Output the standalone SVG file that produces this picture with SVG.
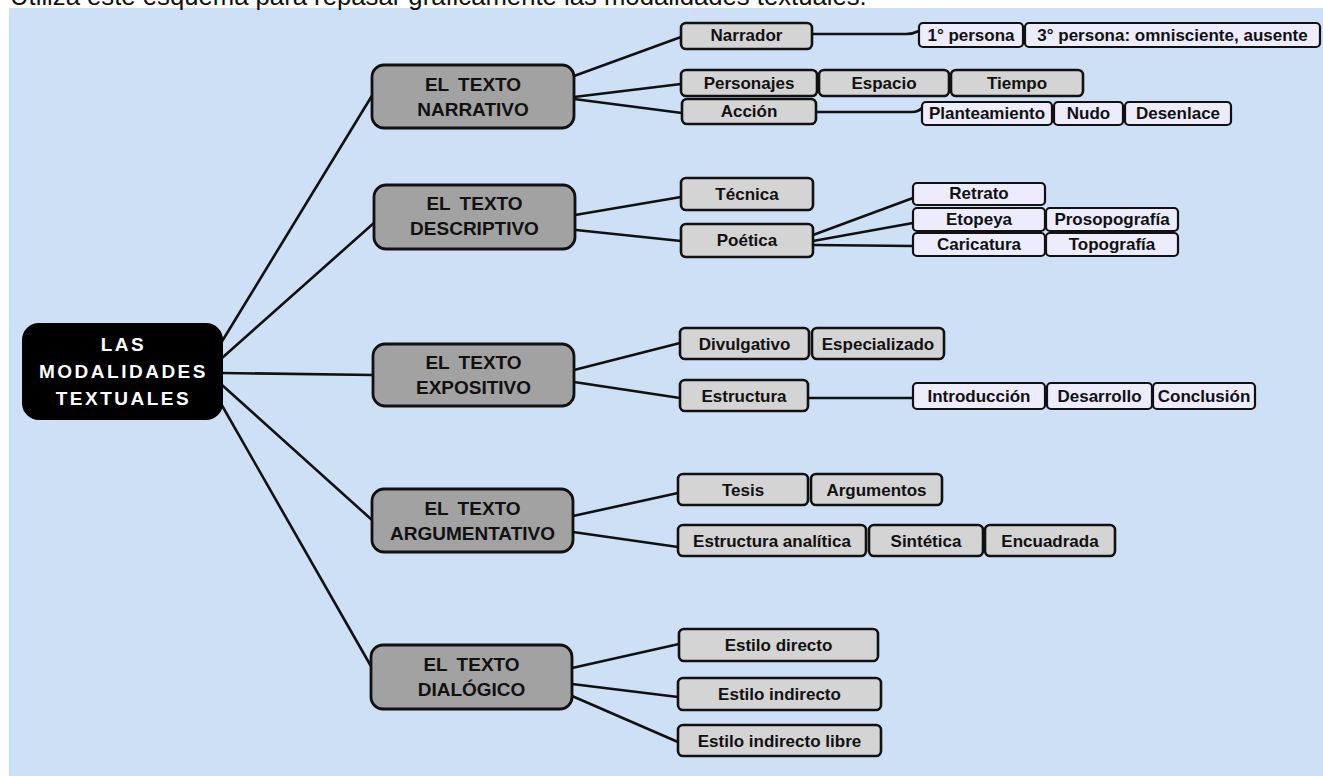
<svg xmlns="http://www.w3.org/2000/svg" width="1323" height="776" viewBox="0 0 1323 776">
<style>
text{font-family:"Liberation Sans",Arial,sans-serif;text-anchor:middle;fill:#111}
.root rect{fill:#000;stroke:#000;stroke-width:2}
.root text{fill:#fff;font-weight:bold;font-size:19px;letter-spacing:2.5px}
.l1 rect{fill:#a2a2a2;stroke:#111;stroke-width:2.8}
.l1 text{font-weight:bold;font-size:19px;word-spacing:4px}
.l2 rect{fill:#d4d4d4;stroke:#111;stroke-width:2.6}
.l2 text{font-weight:bold;font-size:17px}
.l3 rect{fill:#ececfd;stroke:#111;stroke-width:2.2}
.l3 text{font-weight:bold;font-size:17px}
#connectors path{fill:none;stroke:#111;stroke-width:2.6;stroke-linecap:round}
</style>
<rect x="0" y="0" width="1323" height="776" fill="#fff"/>
<rect x="9" y="8" width="1314" height="768" fill="#cde0f6"/>
<text x="10" y="5" style="text-anchor:start;font-size:25.7px">Utiliza este esquema para repasar gráficamente las modalidades textuales.</text>

<g id="connectors">
<path d="M221 343 L373 94"/>
<path d="M222 358 L375 222"/>
<path d="M222 373 L373 375"/>
<path d="M222 385 L372 520"/>
<path d="M220 402 L372 668"/>
<path d="M574 76 L681 37"/>
<path d="M574 97 L681 84"/>
<path d="M574 99 L682 113"/>
<path d="M812 34 L906 34 Q913 34 919 31"/>
<path d="M816 112 L912 112 Q918 112 922 108"/>
<path d="M575 215 L681 197"/>
<path d="M576 230 L681 241"/>
<path d="M813 235 L913 198"/>
<path d="M813 241 L913 223"/>
<path d="M813 245 L913 246"/>
<path d="M574 370 L680 343"/>
<path d="M574 382 L680 398"/>
<path d="M808 398 L913 398"/>
<path d="M573 516 L678 493"/>
<path d="M573 532 L678 547"/>
<path d="M572 668 L679 644"/>
<path d="M572 684 L678 697"/>
<path d="M572 696 L678 742"/>
</g>

<g id="root" class="root">
<rect x="23" y="324" width="199" height="95" rx="16"/>
<text x="123.5" y="351">LAS</text>
<text x="123.5" y="378">MODALIDADES</text>
<text x="123.5" y="405">TEXTUALES</text>
</g>

<g id="narrativo" class="l1">
<rect x="372" y="65" width="202" height="63" rx="12"/>
<text x="473" y="91">EL TEXTO</text>
<text x="473" y="116">NARRATIVO</text>
</g>
<g id="descriptivo" class="l1">
<rect x="374" y="185" width="201" height="64" rx="12"/>
<text x="474.5" y="210">EL TEXTO</text>
<text x="474.5" y="235">DESCRIPTIVO</text>
</g>
<g id="expositivo" class="l1">
<rect x="373" y="344" width="201" height="62" rx="12"/>
<text x="473.5" y="369">EL TEXTO</text>
<text x="473.5" y="394">EXPOSITIVO</text>
</g>
<g id="argumentativo" class="l1">
<rect x="372" y="489" width="201" height="63" rx="12"/>
<text x="472.5" y="515">EL TEXTO</text>
<text x="472.5" y="540">ARGUMENTATIVO</text>
</g>
<g id="dialogico" class="l1">
<rect x="371" y="645" width="201" height="64" rx="12"/>
<text x="471.5" y="671">EL TEXTO</text>
<text x="471.5" y="696">DIALÓGICO</text>
</g>

<g id="narrador" class="l2"><rect x="681" y="23" width="131" height="26" rx="5"/><text x="746.5" y="41">Narrador</text></g>
<g id="personajes" class="l2"><rect x="681" y="70" width="136" height="26" rx="5"/><text x="749" y="89">Personajes</text></g>
<g id="espacio" class="l2"><rect x="819" y="70" width="130" height="26" rx="5"/><text x="884" y="89">Espacio</text></g>
<g id="tiempo" class="l2"><rect x="951" y="70" width="132" height="26" rx="5"/><text x="1017" y="89">Tiempo</text></g>
<g id="accion" class="l2"><rect x="682" y="99" width="134" height="25" rx="5"/><text x="749" y="117">Acción</text></g>

<g id="persona1" class="l3"><rect x="919" y="23" width="104" height="24" rx="4"/><text x="971" y="40.5">1° persona</text></g>
<g id="persona3" class="l3"><rect x="1025" y="23" width="295" height="24" rx="4"/><text x="1172.5" y="40.5">3° persona: omnisciente, ausente</text></g>
<g id="planteamiento" class="l3"><rect x="922" y="102" width="130" height="23" rx="4"/><text x="987" y="119">Planteamiento</text></g>
<g id="nudo" class="l3"><rect x="1054" y="102" width="69" height="23" rx="4"/><text x="1088.5" y="119">Nudo</text></g>
<g id="desenlace" class="l3"><rect x="1125" y="102" width="106" height="23" rx="4"/><text x="1178" y="119">Desenlace</text></g>

<g id="tecnica" class="l2"><rect x="681" y="178" width="132" height="32" rx="5"/><text x="747" y="200">Técnica</text></g>
<g id="poetica" class="l2"><rect x="681" y="224" width="132" height="33" rx="5"/><text x="747" y="246">Poética</text></g>

<g id="retrato" class="l3"><rect x="913" y="183" width="132" height="22" rx="4"/><text x="979" y="199">Retrato</text></g>
<g id="etopeya" class="l3"><rect x="913" y="208" width="132" height="23" rx="4"/><text x="979" y="224.5">Etopeya</text></g>
<g id="caricatura" class="l3"><rect x="913" y="233" width="132" height="23" rx="4"/><text x="979" y="249.5">Caricatura</text></g>
<g id="prosopografia" class="l3"><rect x="1046" y="208" width="132" height="23" rx="4"/><text x="1112" y="224.5">Prosopografía</text></g>
<g id="topografia" class="l3"><rect x="1046" y="233" width="132" height="23" rx="4"/><text x="1112" y="249.5">Topografía</text></g>

<g id="divulgativo" class="l2"><rect x="680" y="328" width="129" height="31" rx="5"/><text x="744.5" y="349.5">Divulgativo</text></g>
<g id="especializado" class="l2"><rect x="812" y="328" width="132" height="31" rx="5"/><text x="878" y="349.5">Especializado</text></g>
<g id="estructura" class="l2"><rect x="680" y="380" width="128" height="31" rx="5"/><text x="744" y="401.5">Estructura</text></g>

<g id="introduccion" class="l3"><rect x="913" y="383" width="132" height="26" rx="4"/><text x="979" y="401.5">Introducción</text></g>
<g id="desarrollo" class="l3"><rect x="1047" y="383" width="105" height="26" rx="4"/><text x="1099.5" y="401.5">Desarrollo</text></g>
<g id="conclusion" class="l3"><rect x="1153" y="383" width="102" height="26" rx="4"/><text x="1204" y="401.5">Conclusión</text></g>

<g id="tesis" class="l2"><rect x="678" y="474" width="130" height="31" rx="5"/><text x="743" y="496">Tesis</text></g>
<g id="argumentos" class="l2"><rect x="811" y="474" width="131" height="31" rx="5"/><text x="876.5" y="496">Argumentos</text></g>
<g id="analitica" class="l2"><rect x="678" y="525" width="188" height="31" rx="5"/><text x="772" y="547">Estructura analítica</text></g>
<g id="sintetica" class="l2"><rect x="869" y="525" width="114" height="31" rx="5"/><text x="926" y="547">Sintética</text></g>
<g id="encuadrada" class="l2"><rect x="985" y="525" width="130" height="31" rx="5"/><text x="1050" y="547">Encuadrada</text></g>

<g id="directo" class="l2"><rect x="679" y="629" width="199" height="32" rx="5"/><text x="778.5" y="651">Estilo directo</text></g>
<g id="indirecto" class="l2"><rect x="678" y="678" width="203" height="32" rx="5"/><text x="779.5" y="700">Estilo indirecto</text></g>
<g id="libre" class="l2"><rect x="678" y="725" width="203" height="31" rx="5"/><text x="779.5" y="746.5">Estilo indirecto libre</text></g>
</svg>
